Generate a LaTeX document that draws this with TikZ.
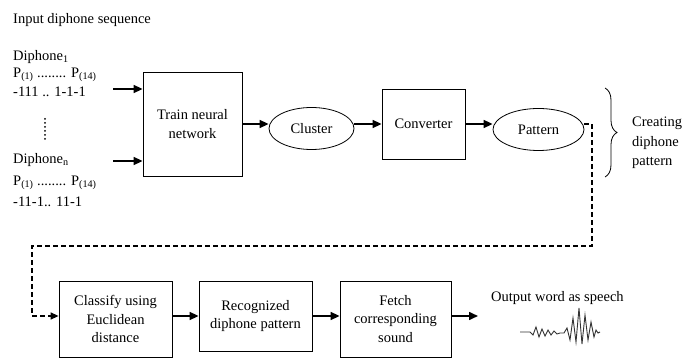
\documentclass[tikz,border=0pt]{standalone}
\usepackage{fontspec}
\setmainfont{Liberation Serif}
\usetikzlibrary{arrows.meta,shapes.geometric,decorations.pathreplacing}

\begin{document}
\begin{tikzpicture}[x=1pt,y=-1pt,
		font=\fontsize{14.5}{18.5}\selectfont,
		block/.style={draw, line width=0.8pt, inner sep=0pt, align=center},
		oval/.style={draw, ellipse, line width=0.8pt, inner sep=0pt},
		txt/.style={anchor=west, inner sep=0pt},
		flow/.style={line width=1.6pt, -{Triangle[length=9pt,width=8pt]}},
		back/.style={line width=1.4pt, dash pattern=on 5pt off 3pt, -{Triangle[length=8pt,width=7pt]}}]
	\useasboundingbox (0,0) rectangle (694,358);
	
	\node[txt] (title) at (13,20) {Input diphone sequence};
	\node[txt] (dfirst) at (13,57) {Diphone\textsubscript{1}};
	\node[txt] (pfirst) at (13,75) {P\textsubscript{(1)} ........ P\textsubscript{(14)}};
	\node[txt] (vfirst) at (13,92) {-111 .. 1-1-1};
	\draw[line width=2pt, line cap=round, dash pattern=on 0pt off 4pt] (45,119) -- (45,140);
	\node[txt] (dlast) at (13,160) {Diphone\textsubscript{n}};
	\node[txt] (plast) at (13,183) {P\textsubscript{(1)} ........ P\textsubscript{(14)}};
	\node[txt] (vlast) at (13,202) {-11-1.. 11-1};
	
	\node[block, minimum width=99pt, minimum height=104pt] (train) at (192.5,124) {Train neural\\network};
	\node[oval, minimum width=85pt, minimum height=42pt] (cluster) at (311.5,128.5) {Cluster};
	\node[block, minimum width=83pt, minimum height=70pt] (conv) at (423.5,124) {Converter};
	\node[oval, minimum width=91pt, minimum height=42pt] (pattern) at (538.5,129.5) {Pattern};
	
	\coordinate (inA) at (113,89);
	\coordinate (inB) at (113,161);
	\draw[flow] (inA) -- (inA -| train.west);
	\draw[flow] (inB) -- (inB -| train.west);
	\draw[flow] (train.east) -- (train.east -| cluster.west);
	\draw[flow] (cluster.east |- conv.west) -- (conv.west);
	\draw[flow] (conv.east) -- (conv.east -| pattern.west);
	
	\coordinate (braceTop) at (605,88);
	\coordinate (braceBot) at (605,177);
	\draw[line width=0.8pt, decorate, decoration={brace, amplitude=12pt}] (braceTop) -- (braceBot);
	\node[txt, align=left, font=\fontsize{14.5}{19.5}\selectfont] (creating) at (632,143) {Creating\\diphone\\pattern};
	
	\node[block, minimum width=113pt, minimum height=76pt] (classify) at (115.5,319) {Classify using\\Euclidean\\distance};
	\node[block, minimum width=113pt, minimum height=70pt] (recog) at (255.5,316) {Recognized\\diphone pattern};
	\node[block, minimum width=111pt, minimum height=76pt] (fetch) at (395.5,319) {Fetch\\corresponding\\sound};
	
	\coordinate (turnA) at (592,246);
	\coordinate (turnB) at (32,246);
	\draw[back] (pattern.east |- conv.east) -| (turnA) -- (turnB) |- (classify.west |- recog.west);
	
	\draw[flow] (classify.east |- recog.west) -- (recog.west);
	\draw[flow] (recog.east) -- (fetch.west |- recog.east);
	\coordinate (speak) at (478,316);
	\draw[flow] (fetch.east |- speak) -- (speak);
	
	\node[txt] (output) at (491,298) {Output word as speech};
	\draw[line width=0.9pt, black!80] plot coordinates {(520,332) (530,332) (533,335) (536,327) (539,337) (542,329) (545,336) (548,330) (551,335) (554,331) (557,334) (560,333) (564,333) (567,328) (570,340) (573,318) (576,342) (579,308) (582,344) (585,315) (588,340) (591,322) (594,337) (596,330) (598,333) (600,332)};
\end{tikzpicture}
\end{document}
